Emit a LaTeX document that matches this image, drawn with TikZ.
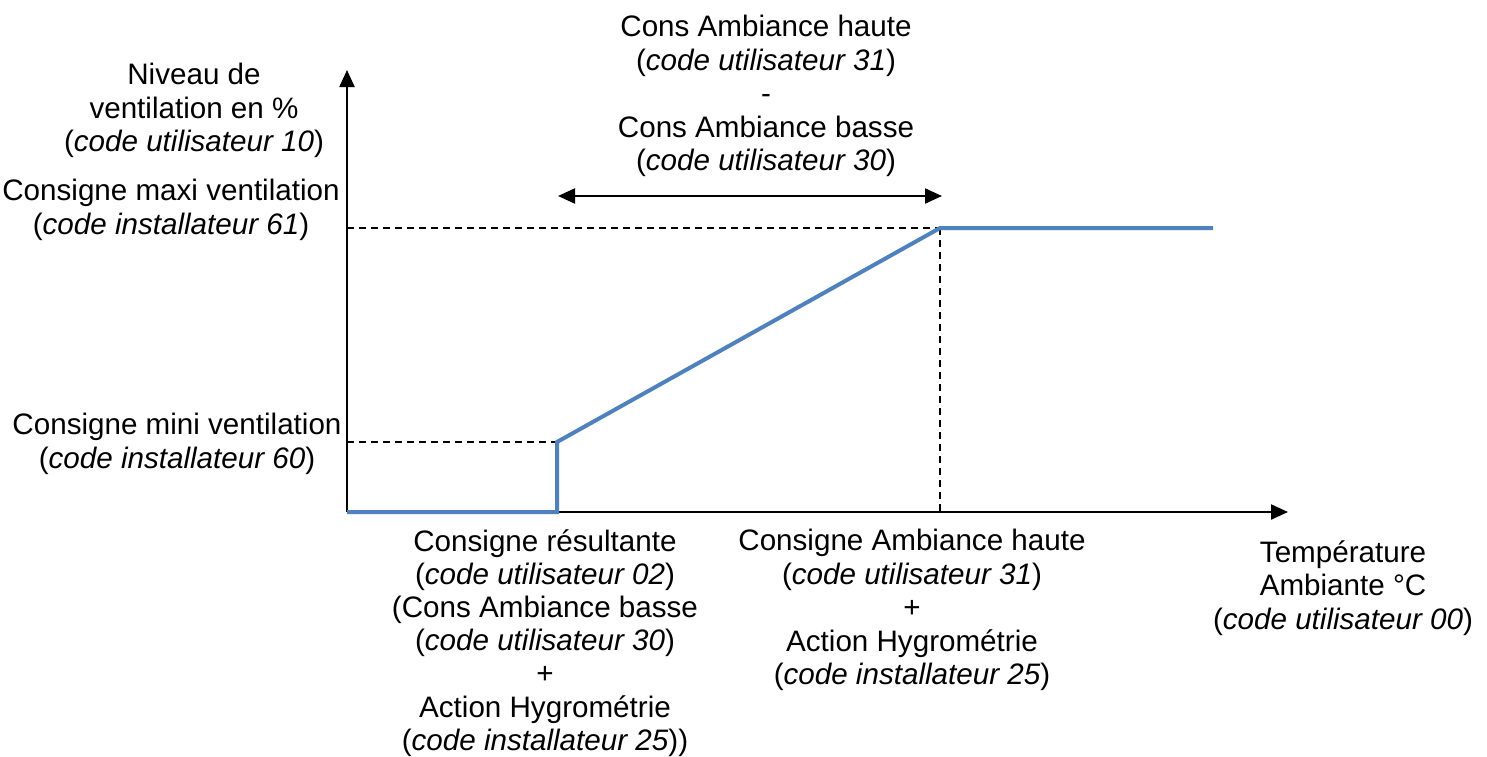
\documentclass[tikz,border=0pt]{standalone}
\usepackage{fontspec}
\setmainfont{Liberation Sans}
\usetikzlibrary{arrows.meta}
\definecolor{curveblue}{HTML}{4F81BD}
\tikzset{
  lbl/.style={align=center, anchor=north, inner sep=0pt, font=\fontsize{29.6}{33.5}\selectfont},
  axis/.style={line width=2.2pt, -{Triangle[length=17pt,width=15pt]}},
  guide/.style={line width=1.5pt, dash pattern=on 7pt off 5pt},
  curve/.style={line width=4pt, curveblue},
  span/.style={line width=2.2pt, {Triangle[length=17pt,width=15pt]}-{Triangle[length=17pt,width=15pt]}}
}
\begin{document}
\begin{tikzpicture}[x=1pt,y=-1pt]
\useasboundingbox (0,0) rectangle (1487,756);
% coordinates
\coordinate (O) at (347,512);
\coordinate (Ytop) at (347,70);
\coordinate (Xend) at (1288,512);
\coordinate (A) at (557,512);
\coordinate (B) at (557,442);
\coordinate (C) at (940,228);
\coordinate (D) at (1213,228);
\coordinate (Ymax) at (347,228);
\coordinate (Ymin) at (347,442);
\coordinate (Cb) at (940,512);
\coordinate (SL) at (558,196);
\coordinate (SR) at (942,196);
% guides
\draw[guide] (Ymax) -- (C);
\draw[guide] (C) -- (Cb);
\draw[guide] (Ymin) -- (B);
% axes
\draw[axis] (O) -- (Ytop);
\draw[axis] (O) -- (Xend);
% curve
\draw[curve] (O) -- (A) -- (B) -- (C) -- (D);
% span arrow
\draw[span] (SL) -- (SR);
% labels
\node[lbl] (niveau) at (194,63) {Niveau de\\ventilation en \%\\(\textit{code utilisateur 10})};
\node[lbl] (maxi) at (171,179) {Consigne maxi ventilation\\(\textit{code installateur 61})};
\node[lbl] (mini) at (177,413) {Consigne mini ventilation\\(\textit{code installateur 60})};
\node[lbl] (diff) at (766,15) {Cons Ambiance haute\\(\textit{code utilisateur 31})\\-\\Cons Ambiance basse\\(\textit{code utilisateur 30})};
\node[lbl, font=\fontsize{29.6}{33.2}\selectfont] (resul) at (545,529) {Consigne résultante\\(\textit{code utilisateur 02})\\(Cons Ambiance basse\\(\textit{code utilisateur 30})\\+\\Action Hygrométrie\\(\textit{code installateur 25}))};
\node[lbl] (haute) at (912,529) {Consigne Ambiance haute\\(\textit{code utilisateur 31})\\+\\Action Hygrométrie\\(\textit{code installateur 25})};
\node[lbl] (temp) at (1343,540) {Température\\Ambiante °C\\(\textit{code utilisateur 00})};
\end{tikzpicture}
\end{document}
